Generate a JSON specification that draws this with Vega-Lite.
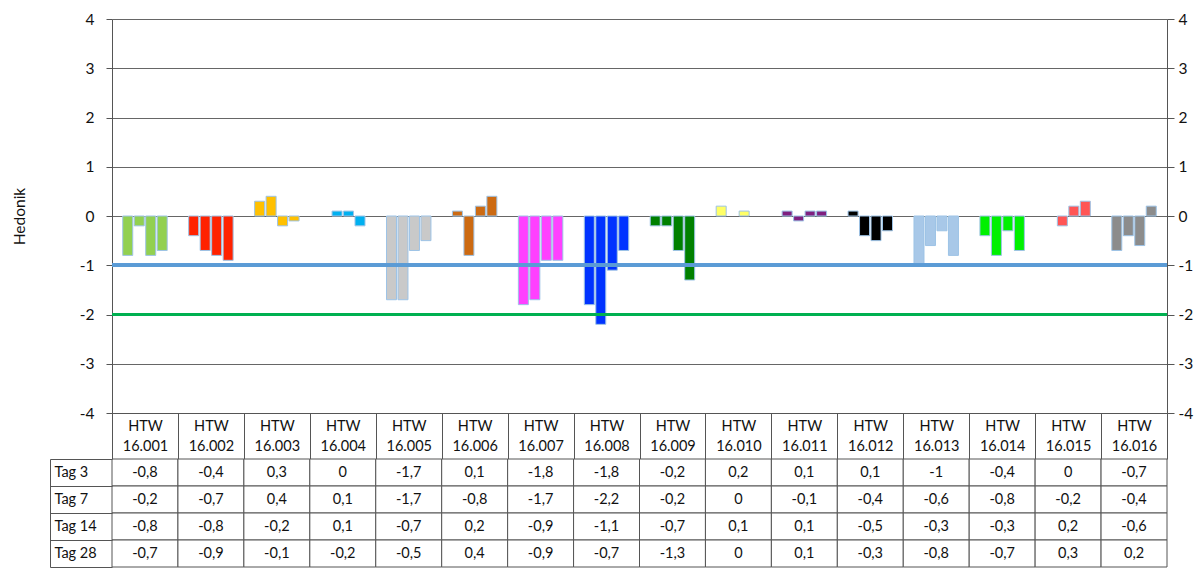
{
  "$schema": "https://vega.github.io/schema/vega-lite/v6.json",
  "padding": {"left": 12, "top": 12, "right": 5, "bottom": 0},
  "background": "white",
  "bounds": "flush",
  "spacing": 46,
  "datasets": {
    "hedonik": [
      {"product": "16.001", "tag": "Tag 3", "value": -0.8}, {"product": "16.001", "tag": "Tag 7", "value": -0.2}, {"product": "16.001", "tag": "Tag 14", "value": -0.8}, {"product": "16.001", "tag": "Tag 28", "value": -0.7},
      {"product": "16.002", "tag": "Tag 3", "value": -0.4}, {"product": "16.002", "tag": "Tag 7", "value": -0.7}, {"product": "16.002", "tag": "Tag 14", "value": -0.8}, {"product": "16.002", "tag": "Tag 28", "value": -0.9},
      {"product": "16.003", "tag": "Tag 3", "value": 0.3}, {"product": "16.003", "tag": "Tag 7", "value": 0.4}, {"product": "16.003", "tag": "Tag 14", "value": -0.2}, {"product": "16.003", "tag": "Tag 28", "value": -0.1},
      {"product": "16.004", "tag": "Tag 3", "value": 0}, {"product": "16.004", "tag": "Tag 7", "value": 0.1}, {"product": "16.004", "tag": "Tag 14", "value": 0.1}, {"product": "16.004", "tag": "Tag 28", "value": -0.2},
      {"product": "16.005", "tag": "Tag 3", "value": -1.7}, {"product": "16.005", "tag": "Tag 7", "value": -1.7}, {"product": "16.005", "tag": "Tag 14", "value": -0.7}, {"product": "16.005", "tag": "Tag 28", "value": -0.5},
      {"product": "16.006", "tag": "Tag 3", "value": 0.1}, {"product": "16.006", "tag": "Tag 7", "value": -0.8}, {"product": "16.006", "tag": "Tag 14", "value": 0.2}, {"product": "16.006", "tag": "Tag 28", "value": 0.4},
      {"product": "16.007", "tag": "Tag 3", "value": -1.8}, {"product": "16.007", "tag": "Tag 7", "value": -1.7}, {"product": "16.007", "tag": "Tag 14", "value": -0.9}, {"product": "16.007", "tag": "Tag 28", "value": -0.9},
      {"product": "16.008", "tag": "Tag 3", "value": -1.8}, {"product": "16.008", "tag": "Tag 7", "value": -2.2}, {"product": "16.008", "tag": "Tag 14", "value": -1.1}, {"product": "16.008", "tag": "Tag 28", "value": -0.7},
      {"product": "16.009", "tag": "Tag 3", "value": -0.2}, {"product": "16.009", "tag": "Tag 7", "value": -0.2}, {"product": "16.009", "tag": "Tag 14", "value": -0.7}, {"product": "16.009", "tag": "Tag 28", "value": -1.3},
      {"product": "16.010", "tag": "Tag 3", "value": 0.2}, {"product": "16.010", "tag": "Tag 7", "value": 0}, {"product": "16.010", "tag": "Tag 14", "value": 0.1}, {"product": "16.010", "tag": "Tag 28", "value": 0},
      {"product": "16.011", "tag": "Tag 3", "value": 0.1}, {"product": "16.011", "tag": "Tag 7", "value": -0.1}, {"product": "16.011", "tag": "Tag 14", "value": 0.1}, {"product": "16.011", "tag": "Tag 28", "value": 0.1},
      {"product": "16.012", "tag": "Tag 3", "value": 0.1}, {"product": "16.012", "tag": "Tag 7", "value": -0.4}, {"product": "16.012", "tag": "Tag 14", "value": -0.5}, {"product": "16.012", "tag": "Tag 28", "value": -0.3},
      {"product": "16.013", "tag": "Tag 3", "value": -1}, {"product": "16.013", "tag": "Tag 7", "value": -0.6}, {"product": "16.013", "tag": "Tag 14", "value": -0.3}, {"product": "16.013", "tag": "Tag 28", "value": -0.8},
      {"product": "16.014", "tag": "Tag 3", "value": -0.4}, {"product": "16.014", "tag": "Tag 7", "value": -0.8}, {"product": "16.014", "tag": "Tag 14", "value": -0.3}, {"product": "16.014", "tag": "Tag 28", "value": -0.7},
      {"product": "16.015", "tag": "Tag 3", "value": 0}, {"product": "16.015", "tag": "Tag 7", "value": -0.2}, {"product": "16.015", "tag": "Tag 14", "value": 0.2}, {"product": "16.015", "tag": "Tag 28", "value": 0.3},
      {"product": "16.016", "tag": "Tag 3", "value": -0.7}, {"product": "16.016", "tag": "Tag 7", "value": -0.4}, {"product": "16.016", "tag": "Tag 14", "value": -0.6}, {"product": "16.016", "tag": "Tag 28", "value": 0.2}
    ]
  },
  "resolve": {"scale": {"x": "independent", "y": "independent", "color": "independent", "xOffset": "independent"}},
  "vconcat": [
    {
      "width": 1055,
      "height": 394,
      "data": {"name": "hedonik"},
      "layer": [
        {
          "transform": [{"filter": "datum.value != 0"}],
          "mark": {"type": "bar", "stroke": "#9dc3e6", "strokeWidth": 1},
          "encoding": {
            "x": {
              "field": "product", "type": "nominal",
              "scale": {"domain": ["16.001", "16.002", "16.003", "16.004", "16.005", "16.006", "16.007", "16.008", "16.009", "16.010", "16.011", "16.012", "16.013", "16.014", "16.015", "16.016"], "paddingInner": 0, "paddingOuter": 0},
              "axis": {
                "title": null, "orient": "bottom", "tickBand": "extent", "tickSize": 46,
                "labelExpr": "datum.label ? ['HTW', datum.label] : ''", "labelPadding": -40, "labelAngle": 0,
                "labelFontSize": 14.5, "labelLineHeight": 20, "labelBaseline": "top", "grid": false
              }
            },
            "xOffset": {
              "field": "tag", "type": "nominal",
              "sort": ["Tag 3", "Tag 7", "Tag 14", "Tag 28"],
              "scale": {"paddingInner": 0.13, "paddingOuter": 0.935}
            },
            "y": {
              "field": "value", "type": "quantitative",
              "scale": {"domain": [-4, 4], "nice": false},
              "axis": {
                "title": "Hedonik", "orient": "left", "values": [-4, -3, -2, -1, 0, 1, 2, 3, 4],
                "grid": true, "tickSize": 6, "labelPadding": 12, "labelFontSize": 15.5,
                "titleFontSize": 15.5, "titleFontWeight": "normal", "titlePadding": 52
              }
            },
            "color": {
              "field": "product", "type": "nominal", "legend": null,
              "scale": {"domain": ["16.001", "16.002", "16.003", "16.004", "16.005", "16.006", "16.007", "16.008", "16.009", "16.010", "16.011", "16.012", "16.013", "16.014", "16.015", "16.016"], "range": ["#92d050", "#ff2200", "#ffc000", "#00b0f0", "#c9c9c9", "#cc6a12", "#ff40ff", "#0033ff", "#008000", "#ffff66", "#7f1f7f", "#000000", "#a8c8e8", "#00f000", "#ff5555", "#8c8c8c"]}
            }
          }
        },
        {
          "mark": {"type": "rule", "color": "#5b9bd5", "strokeWidth": 3},
          "encoding": {"y": {"datum": -1, "type": "quantitative", "axis": null}}
        },
        {
          "mark": {"type": "rule", "color": "#00b050", "strokeWidth": 3},
          "encoding": {"y": {"datum": -2, "type": "quantitative", "axis": null}}
        },
        {
          "mark": {"type": "rule", "opacity": 0},
          "encoding": {
            "y": {
              "datum": 0, "type": "quantitative",
              "axis": {
                "orient": "right", "title": null, "values": [-4, -3, -2, -1, 0, 1, 2, 3, 4],
                "grid": false, "tickSize": 7, "labelPadding": 4, "labelFontSize": 15.5
              }
            }
          }
        }
      ],
      "resolve": {"axis": {"y": "independent"}}
    },
    {
      "width": 1055,
      "height": 108,
      "data": {"name": "hedonik"},
      "layer": [
        {
          "mark": {"type": "rect", "fill": "white", "stroke": "#555555", "strokeWidth": 1},
          "encoding": {
            "x": {"field": "product", "type": "nominal", "axis": null, "scale": {"paddingInner": 0, "paddingOuter": 0}},
            "y": {
              "field": "tag", "type": "nominal",
              "sort": ["Tag 3", "Tag 7", "Tag 14", "Tag 28"],
              "scale": {"paddingInner": 0, "paddingOuter": 0},
              "axis": {
                "title": null, "orient": "left", "offset": 62, "tickBand": "extent", "tickSize": -62,
                "labelAlign": "left", "labelPadding": 58, "labelFontSize": 14.5, "grid": false
              }
            }
          }
        },
        {
          "mark": {"type": "text", "fontSize": 14.5, "color": "#111111"},
          "encoding": {
            "x": {"field": "product", "type": "nominal"},
            "y": {"field": "tag", "type": "nominal", "sort": ["Tag 3", "Tag 7", "Tag 14", "Tag 28"]},
            "text": {"field": "value", "type": "quantitative", "format": ""}
          }
        }
      ]
    }
  ],
  "config": {
    "font": "Lato",
    "view": {"stroke": null},
    "axis": {
      "labelFont": "Lato", "titleFont": "Lato",
      "labelColor": "#111111", "titleColor": "#111111",
      "domainColor": "#555555", "tickColor": "#555555", "gridColor": "#666666", "gridOpacity": 1
    },
    "locale": {
      "number": {"decimal": ",", "thousands": ".", "grouping": [3], "currency": ["", " €"], "minus": "-"}
    }
  }
}
